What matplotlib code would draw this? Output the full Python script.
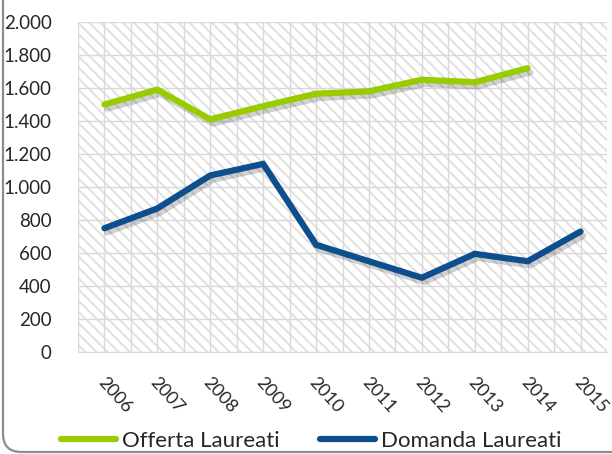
import matplotlib
matplotlib.use("Agg")
import matplotlib.pyplot as plt
import matplotlib.patheffects as pe
import matplotlib.transforms as mtransforms
from matplotlib.patches import Rectangle, FancyBboxPatch
from matplotlib.ticker import FuncFormatter, MultipleLocator

years = ["2006", "2007", "2008", "2009", "2010", "2011", "2012", "2013", "2014", "2015"]
offerta = [1500, 1590, 1410, 1490, 1565, 1580, 1650, 1635, 1720]
domanda = [750, 870, 1070, 1140, 650, 550, 450, 595, 550, 730]

green = "#99CC00"
blue = "#0D4F8E"

plt.rcParams['font.family'] = ['Lato', 'DejaVu Sans']
plt.rcParams['hatch.color'] = '#E0E0E0'
plt.rcParams['hatch.linewidth'] = 1.4

fig = plt.figure(figsize=(6.12, 4.54), dpi=100)
ax = fig.add_axes([78/612, 1-352/454, (607-78)/612, (352-22)/454])

# outer rounded border
border = FancyBboxPatch((3/612, 2/454), 1.2, 1.2, boxstyle="round,pad=0,rounding_size=0.03",
                        transform=fig.transFigure, fill=False, edgecolor="#8C8C8C", lw=1.6,
                        mutation_aspect=612/454, clip_on=False)
fig.patches.append(border)

ax.set_facecolor("white")
ax.add_patch(Rectangle((0, 0), 1, 1, transform=ax.transAxes, facecolor="white",
                       hatch="\\\\\\", edgecolor="#E0E0E0", lw=0, zorder=0))

x = list(range(len(years)))
shadow = [pe.SimpleLineShadow(offset=(2, -3), shadow_color="black", alpha=0.18), pe.Normal()]
ax.plot(x[:len(offerta)], offerta, color=green, lw=4.5, solid_capstyle="round",
        solid_joinstyle="miter", label="Offerta Laureati", path_effects=shadow, zorder=3)
ax.plot(x, domanda, color=blue, lw=4.5, solid_capstyle="round",
        solid_joinstyle="miter", label="Domanda Laureati", path_effects=shadow, zorder=3)

ax.set_xlim(-0.5, len(years) - 0.5)
ax.set_ylim(0, 2000)
ax.yaxis.set_major_locator(MultipleLocator(200))
ax.yaxis.set_major_formatter(FuncFormatter(lambda v, p: f"{int(v):,}".replace(",", ".")))
ax.set_xticks(x)
ax.set_xticklabels(years, rotation=-48, ha="left", va="center", rotation_mode="anchor")
ax.xaxis.set_minor_locator(MultipleLocator(0.5))
ax.grid(True, which="both", axis="x", color="#D9D9D9", lw=1, zorder=1)
ax.grid(True, which="major", axis="y", color="#D9D9D9", lw=1, zorder=1)
ax.set_axisbelow(True)
for s in ["top", "right", "left"]:
    ax.spines[s].set_visible(False)
ax.spines["bottom"].set_color("#D9D9D9")
ax.tick_params(axis="y", which="both", length=0, labelsize=13.5, colors="#262626", pad=19)
ax.tick_params(axis="x", which="both", length=0, labelsize=13, colors="#262626", pad=20)
shift = mtransforms.ScaledTranslation(-4/100, 0, fig.dpi_scale_trans)
for lab in ax.get_xticklabels():
    lab.set_transform(lab.get_transform() + shift)

leg = fig.legend(loc="center", bbox_to_anchor=(0.5 + 5/612, 1-441/454), ncol=2, frameon=False,
                 fontsize=16, handlelength=2.5, handletextpad=0.25, columnspacing=1.8)
for line in leg.get_lines():
    line.set_linewidth(4.5)
    line.set_path_effects([])
for t in leg.get_texts():
    t.set_color("#262626")

fig.savefig("out.png", dpi=100)
